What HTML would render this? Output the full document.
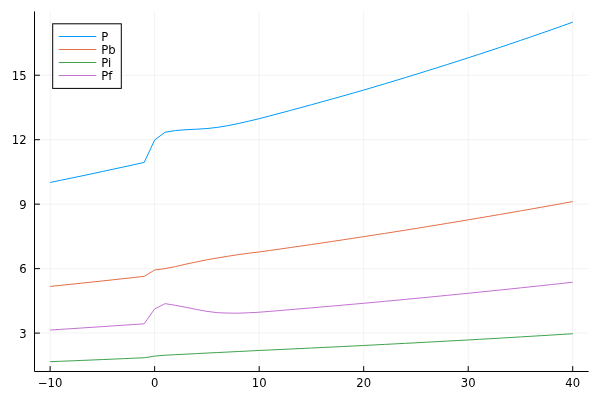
<!DOCTYPE html>
<html><head><meta charset="utf-8"><title>plot</title>
<style>html,body{margin:0;padding:0;background:#fff;}svg{display:block;will-change:transform;}text{font-family:"DejaVu Sans","Liberation Sans",sans-serif;font-size:11.6px;fill:#000;}</style>
</head><body>
<svg width="600" height="400" viewBox="0 0 600 400">
<rect x="0" y="0" width="600" height="400" fill="#ffffff"/>
<g>
<line x1="50.13" y1="11.4" x2="50.13" y2="371.5" stroke="#000" stroke-opacity="0.1" stroke-width="0.5"/>
<line x1="154.65" y1="11.4" x2="154.65" y2="371.5" stroke="#000" stroke-opacity="0.1" stroke-width="0.5"/>
<line x1="259.17" y1="11.4" x2="259.17" y2="371.5" stroke="#000" stroke-opacity="0.1" stroke-width="0.5"/>
<line x1="363.69" y1="11.4" x2="363.69" y2="371.5" stroke="#000" stroke-opacity="0.1" stroke-width="0.5"/>
<line x1="468.21" y1="11.4" x2="468.21" y2="371.5" stroke="#000" stroke-opacity="0.1" stroke-width="0.5"/>
<line x1="572.73" y1="11.4" x2="572.73" y2="371.5" stroke="#000" stroke-opacity="0.1" stroke-width="0.5"/>
<line x1="34.5" y1="333.10" x2="588.6" y2="333.10" stroke="#000" stroke-opacity="0.1" stroke-width="0.5"/>
<line x1="34.5" y1="268.63" x2="588.6" y2="268.63" stroke="#000" stroke-opacity="0.1" stroke-width="0.5"/>
<line x1="34.5" y1="204.16" x2="588.6" y2="204.16" stroke="#000" stroke-opacity="0.1" stroke-width="0.5"/>
<line x1="34.5" y1="139.69" x2="588.6" y2="139.69" stroke="#000" stroke-opacity="0.1" stroke-width="0.5"/>
<line x1="34.5" y1="75.22" x2="588.6" y2="75.22" stroke="#000" stroke-opacity="0.1" stroke-width="0.5"/>
</g>
<line x1="34.5" y1="371.5" x2="588.6" y2="371.5" stroke="#000" stroke-width="1"/>
<line x1="34.5" y1="11.4" x2="34.5" y2="371.5" stroke="#000" stroke-width="1"/>
<line x1="50.13" y1="371.5" x2="50.13" y2="366.1" stroke="#000" stroke-width="1"/>
<line x1="154.65" y1="371.5" x2="154.65" y2="366.1" stroke="#000" stroke-width="1"/>
<line x1="259.17" y1="371.5" x2="259.17" y2="366.1" stroke="#000" stroke-width="1"/>
<line x1="363.69" y1="371.5" x2="363.69" y2="366.1" stroke="#000" stroke-width="1"/>
<line x1="468.21" y1="371.5" x2="468.21" y2="366.1" stroke="#000" stroke-width="1"/>
<line x1="572.73" y1="371.5" x2="572.73" y2="366.1" stroke="#000" stroke-width="1"/>
<line x1="34.5" y1="333.10" x2="39.9" y2="333.10" stroke="#000" stroke-width="1"/>
<line x1="34.5" y1="268.63" x2="39.9" y2="268.63" stroke="#000" stroke-width="1"/>
<line x1="34.5" y1="204.16" x2="39.9" y2="204.16" stroke="#000" stroke-width="1"/>
<line x1="34.5" y1="139.69" x2="39.9" y2="139.69" stroke="#000" stroke-width="1"/>
<line x1="34.5" y1="75.22" x2="39.9" y2="75.22" stroke="#000" stroke-width="1"/>
<text x="50.13" y="387.2" text-anchor="middle">−10</text>
<text x="154.65" y="387.2" text-anchor="middle">0</text>
<text x="259.17" y="387.2" text-anchor="middle">10</text>
<text x="363.69" y="387.2" text-anchor="middle">20</text>
<text x="468.21" y="387.2" text-anchor="middle">30</text>
<text x="572.73" y="387.2" text-anchor="middle">40</text>
<text x="26.6" y="337.60" text-anchor="end">3</text>
<text x="26.6" y="273.13" text-anchor="end">6</text>
<text x="26.6" y="208.66" text-anchor="end">9</text>
<text x="26.6" y="144.19" text-anchor="end">12</text>
<text x="26.6" y="79.72" text-anchor="end">15</text>
<polyline points="50.13,182.46 60.58,180.31 71.03,178.15 81.49,175.97 91.94,173.76 102.39,171.54 112.84,169.29 123.29,167.02 133.75,164.72 144.20,162.40 154.65,140.01 165.10,132.21 175.55,130.56 186.01,129.70 196.46,129.20 206.91,128.56 217.36,127.40 227.81,125.68 238.27,123.53 248.72,121.17 259.17,118.69 269.62,115.95 280.07,113.19 290.53,110.39 300.98,107.57 311.43,104.72 321.88,101.84 332.33,98.94 342.79,96.00 353.24,93.04 363.69,90.05 374.14,86.97 384.59,83.86 395.05,80.71 405.50,77.54 415.95,74.33 426.40,71.09 436.85,67.82 447.31,64.52 457.76,61.18 468.21,57.81 478.66,54.41 489.11,50.97 499.57,47.50 510.02,43.99 520.47,40.45 530.92,36.87 541.37,33.26 551.83,29.61 562.28,25.93 572.73,22.20" fill="none" stroke="#009AFA" stroke-width="1" stroke-linejoin="miter"/>
<polyline points="50.13,286.45 60.58,285.37 71.03,284.28 81.49,283.18 91.94,282.06 102.39,280.94 112.84,279.81 123.29,278.67 133.75,277.51 144.20,276.34 154.65,270.01 165.10,268.61 175.55,266.57 186.01,264.10 196.46,261.95 206.91,259.80 217.36,257.97 227.81,256.25 238.27,254.64 248.72,253.24 259.17,251.95 269.62,250.49 280.07,249.02 290.53,247.53 300.98,246.02 311.43,244.50 321.88,242.97 332.33,241.42 342.79,239.85 353.24,238.27 363.69,236.67 374.14,235.06 384.59,233.44 395.05,231.79 405.50,230.14 415.95,228.46 426.40,226.77 436.85,225.06 447.31,223.33 457.76,221.59 468.21,219.83 478.66,218.08 489.11,216.31 499.57,214.53 510.02,212.73 520.47,210.92 530.92,209.08 541.37,207.23 551.83,205.36 562.28,203.47 572.73,201.56" fill="none" stroke="#E36F47" stroke-width="1" stroke-linejoin="miter"/>
<polyline points="50.13,361.70 60.58,361.28 71.03,360.86 81.49,360.43 91.94,360.00 102.39,359.56 112.84,359.11 123.29,358.66 133.75,358.21 144.20,357.75 154.65,356.12 165.10,355.21 175.55,354.69 186.01,354.15 196.46,353.61 206.91,353.06 217.36,352.56 227.81,352.04 238.27,351.52 248.72,351.00 259.17,350.46 269.62,349.99 280.07,349.51 290.53,349.02 300.98,348.53 311.43,348.03 321.88,347.53 332.33,347.03 342.79,346.52 353.24,346.00 363.69,345.48 374.14,344.95 384.59,344.42 395.05,343.88 405.50,343.34 415.95,342.79 426.40,342.23 436.85,341.67 447.31,341.10 457.76,340.53 468.21,339.96 478.66,339.36 489.11,338.76 499.57,338.15 510.02,337.54 520.47,336.92 530.92,336.29 541.37,335.66 551.83,335.02 562.28,334.38 572.73,333.72" fill="none" stroke="#3EA44E" stroke-width="1" stroke-linejoin="miter"/>
<polyline points="50.13,330.03 60.58,329.36 71.03,328.69 81.49,328.01 91.94,327.32 102.39,326.63 112.84,325.93 123.29,325.23 133.75,324.51 144.20,323.79 154.65,308.90 165.10,303.64 175.55,305.36 186.01,307.29 196.46,309.44 206.91,311.37 217.36,312.66 227.81,313.09 238.27,313.20 248.72,312.77 259.17,312.23 269.62,311.38 280.07,310.51 290.53,309.64 300.98,308.76 311.43,307.86 321.88,306.96 332.33,306.05 342.79,305.14 353.24,304.21 363.69,303.27 374.14,302.32 384.59,301.35 395.05,300.37 405.50,299.39 415.95,298.39 426.40,297.38 436.85,296.37 447.31,295.34 457.76,294.30 468.21,293.26 478.66,292.20 489.11,291.14 499.57,290.07 510.02,288.98 520.47,287.88 530.92,286.78 541.37,285.66 551.83,284.53 562.28,283.39 572.73,282.23" fill="none" stroke="#C371D2" stroke-width="1" stroke-linejoin="miter"/>
<rect x="52.7" y="23.8" width="68.6" height="64.6" fill="#fff" stroke="#000" stroke-width="1"/>
<line x1="58.8" y1="36.5" x2="96.3" y2="36.5" stroke="#009AFA" stroke-width="1"/>
<text x="101.3" y="40.6">P</text>
<line x1="58.8" y1="49.5" x2="96.3" y2="49.5" stroke="#E36F47" stroke-width="1"/>
<text x="101.3" y="53.6">Pb</text>
<line x1="58.8" y1="62.5" x2="96.3" y2="62.5" stroke="#3EA44E" stroke-width="1"/>
<text x="101.3" y="66.6">Pi</text>
<line x1="58.8" y1="75.5" x2="96.3" y2="75.5" stroke="#C371D2" stroke-width="1"/>
<text x="101.3" y="79.6">Pf</text>
</svg></body></html>
